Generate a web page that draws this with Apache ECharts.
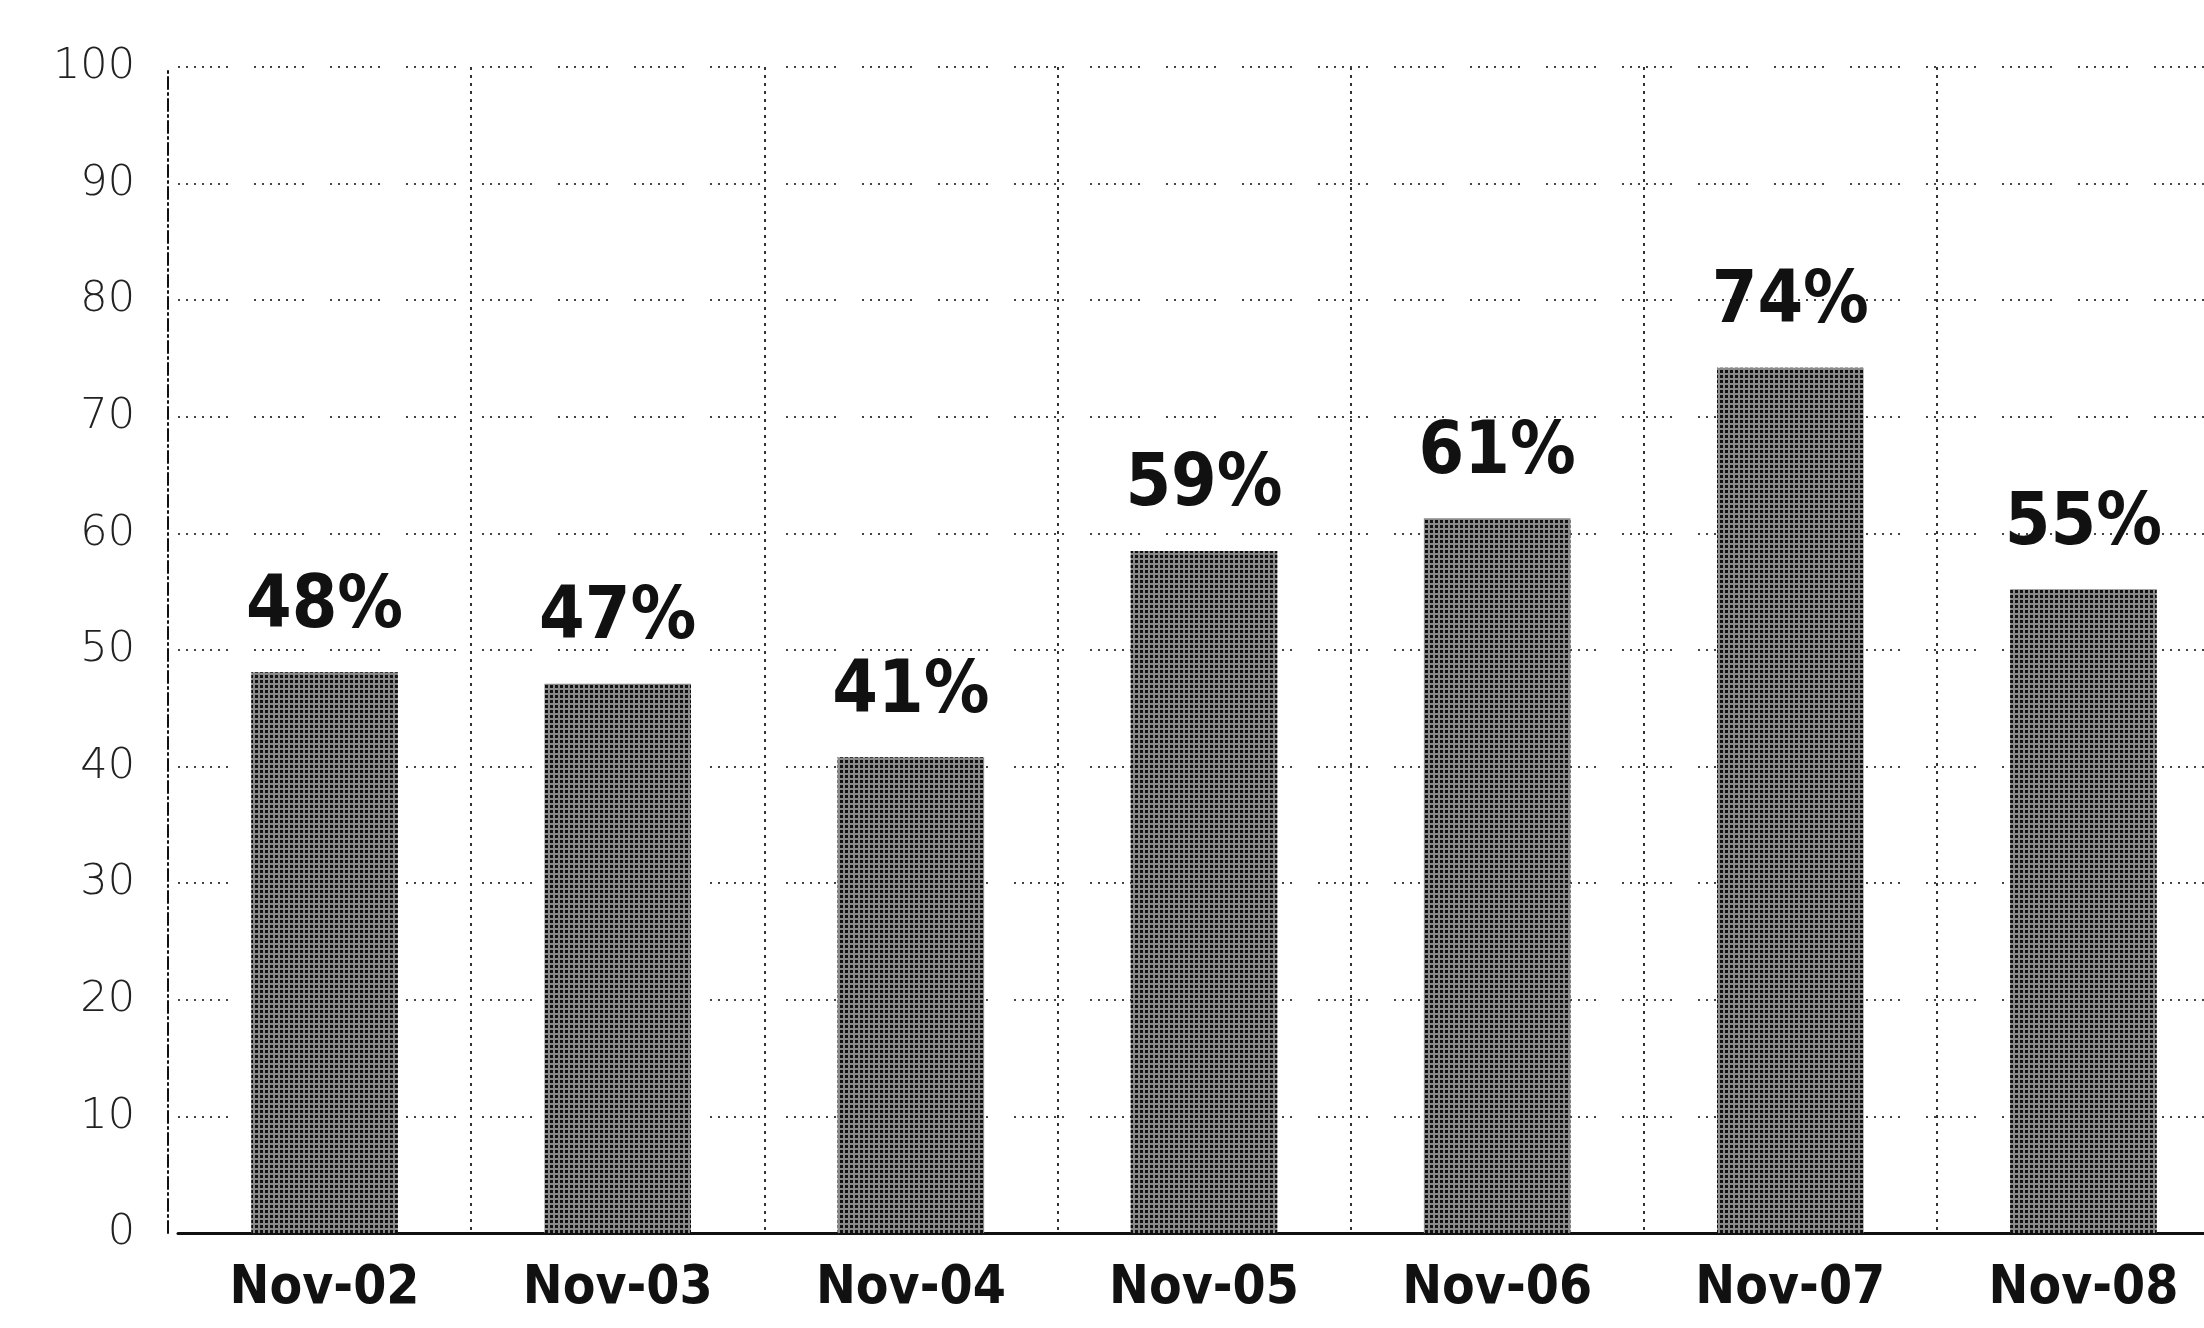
<!DOCTYPE html>
<html>
<head>
<meta charset="utf-8">
<script src="https://cdn.jsdelivr.net/npm/echarts@6/dist/echarts.min.js"></script>
<style>
html,body{margin:0;padding:0;background:#fff;overflow:hidden;}
#chart{width:2204px;height:1328px;}
</style>
</head>
<body>
<div id="chart"></div>
<script>
const categories = ['Nov-02', 'Nov-03', 'Nov-04', 'Nov-05', 'Nov-06', 'Nov-07', 'Nov-08'];
const values = [48.1, 47.1, 40.8, 58.5, 61.3, 74.2, 55.2];
const yMin = 0, yMax = 100, yStep = 10;

const chart = echarts.init(document.getElementById('chart'));
chart.setOption({
  animation: false,
  backgroundColor: '#ffffff',
  grid: { left: 178, width: 2052, top: 67, height: 1166, outerBoundsMode: 'none', containLabel: false },
  xAxis: {
    type: 'category',
    data: categories,
    boundaryGap: true,
    axisLine: { show: true, lineStyle: { color: '#111', width: 3 } },
    axisTick: { show: false },
    axisLabel: {
      margin: 30,
      color: '#111',
      fontFamily: 'DejaVu Sans Condensed, DejaVu Sans',
      fontWeight: 'bold',
      fontSize: 53
    },
    splitLine: {
      show: true,
      interval: (i) => i > 0,
      lineStyle: { color: '#333', width: 2, type: [3, 5] }
    }
  },
  yAxis: {
    type: 'value',
    min: yMin, max: yMax, interval: yStep,
    offset: 10,
    axisLine: { show: true, lineStyle: { color: '#111', width: 2, type: [12, 4, 2, 4] } },
    axisTick: { show: false },
    axisLabel: {
      margin: 33,
      color: '#222',
      fontFamily: 'DejaVu Sans',
      fontWeight: 200,
      fontSize: 43
    },
    splitLine: { show: true, lineStyle: { color: '#444', width: 2, type: [2,6,2,6,2,6,2,6,2,6,2,6,2,26] } }
  },
  series: [{
    type: 'bar',
    data: values,
    barWidth: '50%',
    itemStyle: {
      color: '#8a8a8a',
      decal: {
        symbol: 'rect',
        symbolSize: 1,
        color: '#111111',
        dashArrayX: [3, 2],
        dashArrayY: [3, 2],
        rotation: 0
      }
    },
    label: {
      show: true,
      position: 'top',
      distance: 28,
      formatter: p => Math.round(p.value) + '%',
      color: '#111',
      fontFamily: 'DejaVu Sans Condensed, DejaVu Sans',
      fontWeight: 'bold',
      fontSize: 73
    }
  }]
});
</script>
</body>
</html>
